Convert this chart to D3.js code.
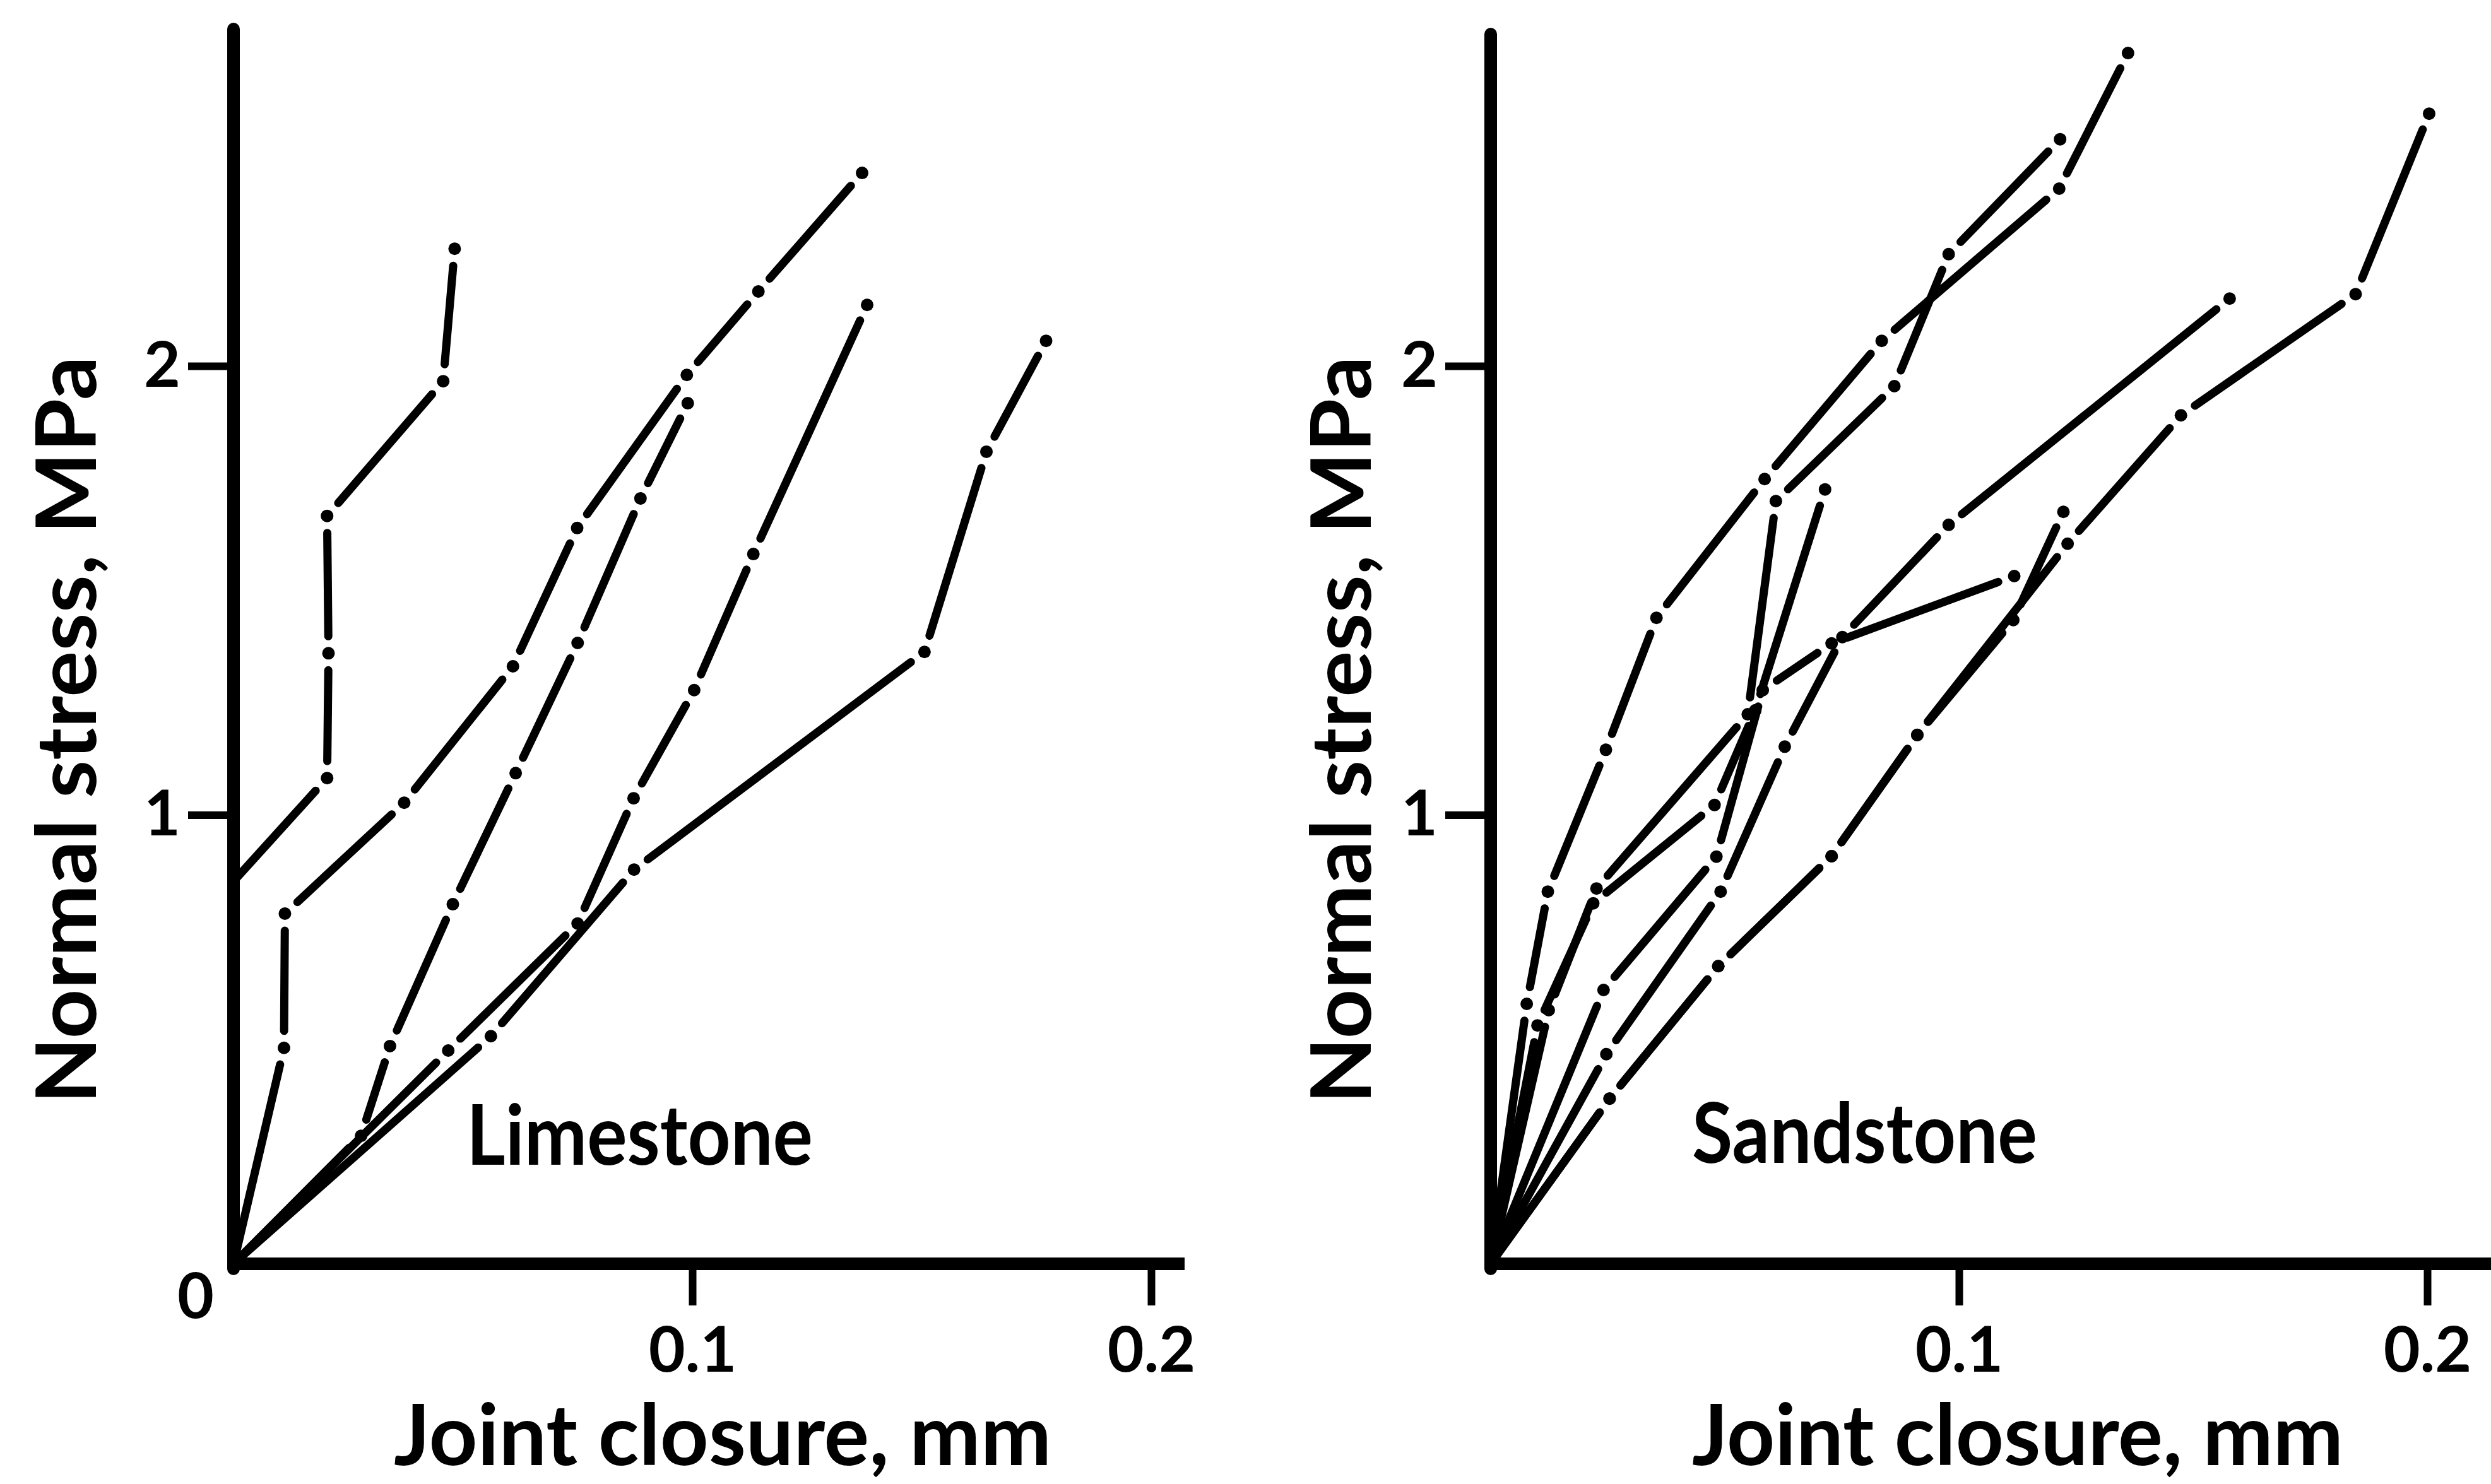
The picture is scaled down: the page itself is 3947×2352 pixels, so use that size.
<!DOCTYPE html>
<html>
<head>
<meta charset="utf-8">
<script src="https://cdn.jsdelivr.net/npm/d3@7"></script>
<style>
  html, body { margin: 0; padding: 0; background: #ffffff; }
  svg { display: block; }
</style>
</head>
<body>
<svg id="chart" width="3947" height="2352"></svg>
<script>
// Tick values and labels shared by both panels
const xTickValues = [0.1, 0.2];
const xTickLabels = ["0.1", "0.2"];
const yTickValues = [1, 2];
const yTickLabels = ["1", "2"];

// Limestone joints: [joint closure (mm), normal stress (MPa)]
const limeA = [[0, 0.852], [0.0204, 1.082], [0.0207, 1.360], [0.0204, 1.666], [0.0457, 1.966], [0.0482, 2.261]];
const limeB = [[0, 0], [0.0110, 0.481], [0.0112, 0.780], [0.0372, 1.027], [0.0609, 1.331], [0.0749, 1.639], [0.0988, 1.980], [0.1144, 2.166], [0.1370, 2.430]];
const limeC = [[0, 0], [0.0278, 0.285], [0.0341, 0.485], [0.0478, 0.801], [0.0615, 1.093], [0.0750, 1.383], [0.0887, 1.705], [0.0990, 1.917]];
const limeD = [[0, 0], [0.0468, 0.475], [0.0750, 0.758], [0.0872, 1.037], [0.1004, 1.278], [0.1133, 1.581], [0.1381, 2.136]];
const limeE = [[0, 0], [0.0561, 0.507], [0.0873, 0.878], [0.1506, 1.363], [0.1641, 1.809], [0.1771, 2.056]];

// Sandstone joints: [joint closure (mm), normal stress (MPa)]
const sandA = [[0, 0], [0.0077, 0.579], [0.0122, 0.829], [0.0246, 1.145], [0.0354, 1.439], [0.0585, 1.748], [0.0835, 2.056], [0.1214, 2.395], [0.1361, 2.697]];
const sandB = [[0, 0], [0.0124, 0.565], [0.0226, 0.836], [0.0549, 1.224], [0.0609, 1.699], [0.0862, 1.955], [0.0978, 2.249], [0.1216, 2.505]];
const sandC = [[0, 0], [0.0100, 0.531], [0.0219, 0.803], [0.0478, 1.022], [0.0565, 1.233], [0.0714, 1.725]];
const sandD = [[0, 0], [0.0241, 0.610], [0.0482, 0.907], [0.0581, 1.278], [0.0728, 1.382], [0.1118, 1.532]];
const sandE = [[0, 0], [0.0247, 0.467], [0.0491, 0.829], [0.0628, 1.152], [0.0751, 1.396], [0.0978, 1.646], [0.1578, 2.150]];
const sandF = [[0, 0], [0.0254, 0.368], [0.0486, 0.663], [0.0728, 0.908], [0.0911, 1.178], [0.1232, 1.604], [0.1474, 1.890], [0.1847, 2.160], [0.2004, 2.562]];
const sandG = [[0, 0], [0.0254, 0.368], [0.0486, 0.663], [0.0728, 0.908], [0.0911, 1.178], [0.1116, 1.434], [0.1223, 1.675]];

const limestoneSeries = [limeA, limeB, limeC, limeD, limeE];
const sandstoneSeries = [sandA, sandB, sandC, sandD, sandE, sandF, sandG];

const FONT = "Lato, 'Open Sans', 'DejaVu Sans', sans-serif";
const INK = "#000";

const panels = [
  {
    title: "Limestone", series: limestoneSeries,
    xRange: [370, 1824], xAxisEnd: 1877, yAxisTop: 46,
    showZero: true,
    titlePos: [739, 1846], titleWidth: 549,
    xLabelCenter: 1145, xLabelWidth: 1042,
    yLabelX: 152
  },
  {
    title: "Sandstone", series: sandstoneSeries,
    xRange: [2362, 3846], xAxisEnd: 3947, yAxisTop: 54,
    showZero: false,
    titlePos: [2681, 1843], titleWidth: 547,
    xLabelCenter: 3197, xLabelWidth: 1032,
    yLabelX: 2172
  }
];

const svg = d3.select("#chart");
const yRange = [2003, 580];
const GAP = 27;        // distance from a data point to the end of the joining dash
const LINE_W = 13;
const DOT_R = 10;

panels.forEach(p => {
  const x = d3.scaleLinear().domain([0, 0.2]).range(p.xRange);
  const y = d3.scaleLinear().domain([0, 2]).range(yRange);
  const g = svg.append("g");
  const x0 = x(0), y0 = y(0);

  // axis spines
  g.append("line")
    .attr("x1", x0).attr("y1", y0 + 8).attr("x2", x0).attr("y2", p.yAxisTop)
    .attr("stroke", INK).attr("stroke-width", 20).attr("stroke-linecap", "round");
  g.append("line")
    .attr("x1", x0 - 8).attr("y1", y0).attr("x2", p.xAxisEnd).attr("y2", y0)
    .attr("stroke", INK).attr("stroke-width", 20).attr("stroke-linecap", "butt");

  // x axis ticks and labels
  const xAxis = d3.axisBottom(x)
    .tickValues(xTickValues)
    .tickFormat((d, i) => xTickLabels[i])
    .tickSize(66).tickPadding(34);
  const gx = g.append("g").attr("transform", `translate(0,${y0})`).call(xAxis);
  gx.select(".domain").remove();
  gx.selectAll(".tick line").attr("stroke", INK).attr("stroke-width", 12);
  gx.selectAll(".tick text")
    .attr("fill", INK).attr("font-family", FONT).attr("font-weight", 700)
    .attr("font-size", 100);

  // y axis ticks and labels
  const yAxis = d3.axisLeft(y)
    .tickValues(yTickValues)
    .tickFormat((d, i) => yTickLabels[i])
    .tickSize(72).tickPadding(12);
  const gy = g.append("g").attr("transform", `translate(${x0},0)`).call(yAxis);
  gy.select(".domain").remove();
  gy.selectAll(".tick line").attr("stroke", INK).attr("stroke-width", 12);
  gy.selectAll(".tick text")
    .attr("fill", INK).attr("font-family", FONT).attr("font-weight", 700)
    .attr("font-size", 100);

  if (p.showZero) {
    g.append("text")
      .attr("x", x0 - 60).attr("y", y0 + 86)
      .attr("text-anchor", "middle")
      .attr("font-family", FONT).attr("font-weight", 700).attr("font-size", 100)
      .attr("fill", INK).text("0");
  }

  // axis titles
  g.append("text")
    .attr("x", p.xLabelCenter).attr("y", 2322)
    .attr("text-anchor", "middle")
    .attr("font-family", FONT).attr("font-weight", 700).attr("font-size", 134)
    .attr("textLength", p.xLabelWidth).attr("lengthAdjust", "spacingAndGlyphs")
    .attr("fill", INK).text("Joint closure, mm");

  g.append("text")
    .attr("transform", `translate(${p.yLabelX},1157) rotate(-90)`)
    .attr("text-anchor", "middle")
    .attr("font-family", FONT).attr("font-weight", 700).attr("font-size", 132)
    .attr("textLength", 1185).attr("lengthAdjust", "spacingAndGlyphs")
    .attr("fill", INK).text("Normal stress, MPa");

  // rock type label
  g.append("text")
    .attr("x", p.titlePos[0]).attr("y", p.titlePos[1])
    .attr("font-family", FONT).attr("font-weight", 700).attr("font-size", 132)
    .attr("textLength", p.titleWidth).attr("lengthAdjust", "spacingAndGlyphs")
    .attr("fill", INK).text(p.title);

  // each test: dots at readings, joined by dashes that stop short of the dots
  p.series.forEach(pts => {
    const px = pts.map(d => [x(d[0]), y(d[1])]);
    const segs = [];
    for (let i = 0; i < px.length - 1; i++) {
      const a = px[i], b = px[i + 1];
      const dx = b[0] - a[0], dy = b[1] - a[1];
      const L = Math.hypot(dx, dy);
      const s = i === 0 ? 0 : GAP;
      const e = GAP;
      if (L > s + e + 2) {
        const ux = dx / L, uy = dy / L;
        segs.push([a[0] + ux * s, a[1] + uy * s, b[0] - ux * e, b[1] - uy * e]);
      }
    }
    const sg = g.append("g");
    sg.selectAll("line").data(segs).join("line")
      .attr("x1", d => d[0]).attr("y1", d => d[1])
      .attr("x2", d => d[2]).attr("y2", d => d[3])
      .attr("stroke", INK).attr("stroke-width", LINE_W).attr("stroke-linecap", "round");
    sg.selectAll("circle").data(px.slice(1)).join("circle")
      .attr("cx", d => d[0]).attr("cy", d => d[1]).attr("r", DOT_R)
      .attr("fill", INK);
  });
});
</script>
</body>
</html>
